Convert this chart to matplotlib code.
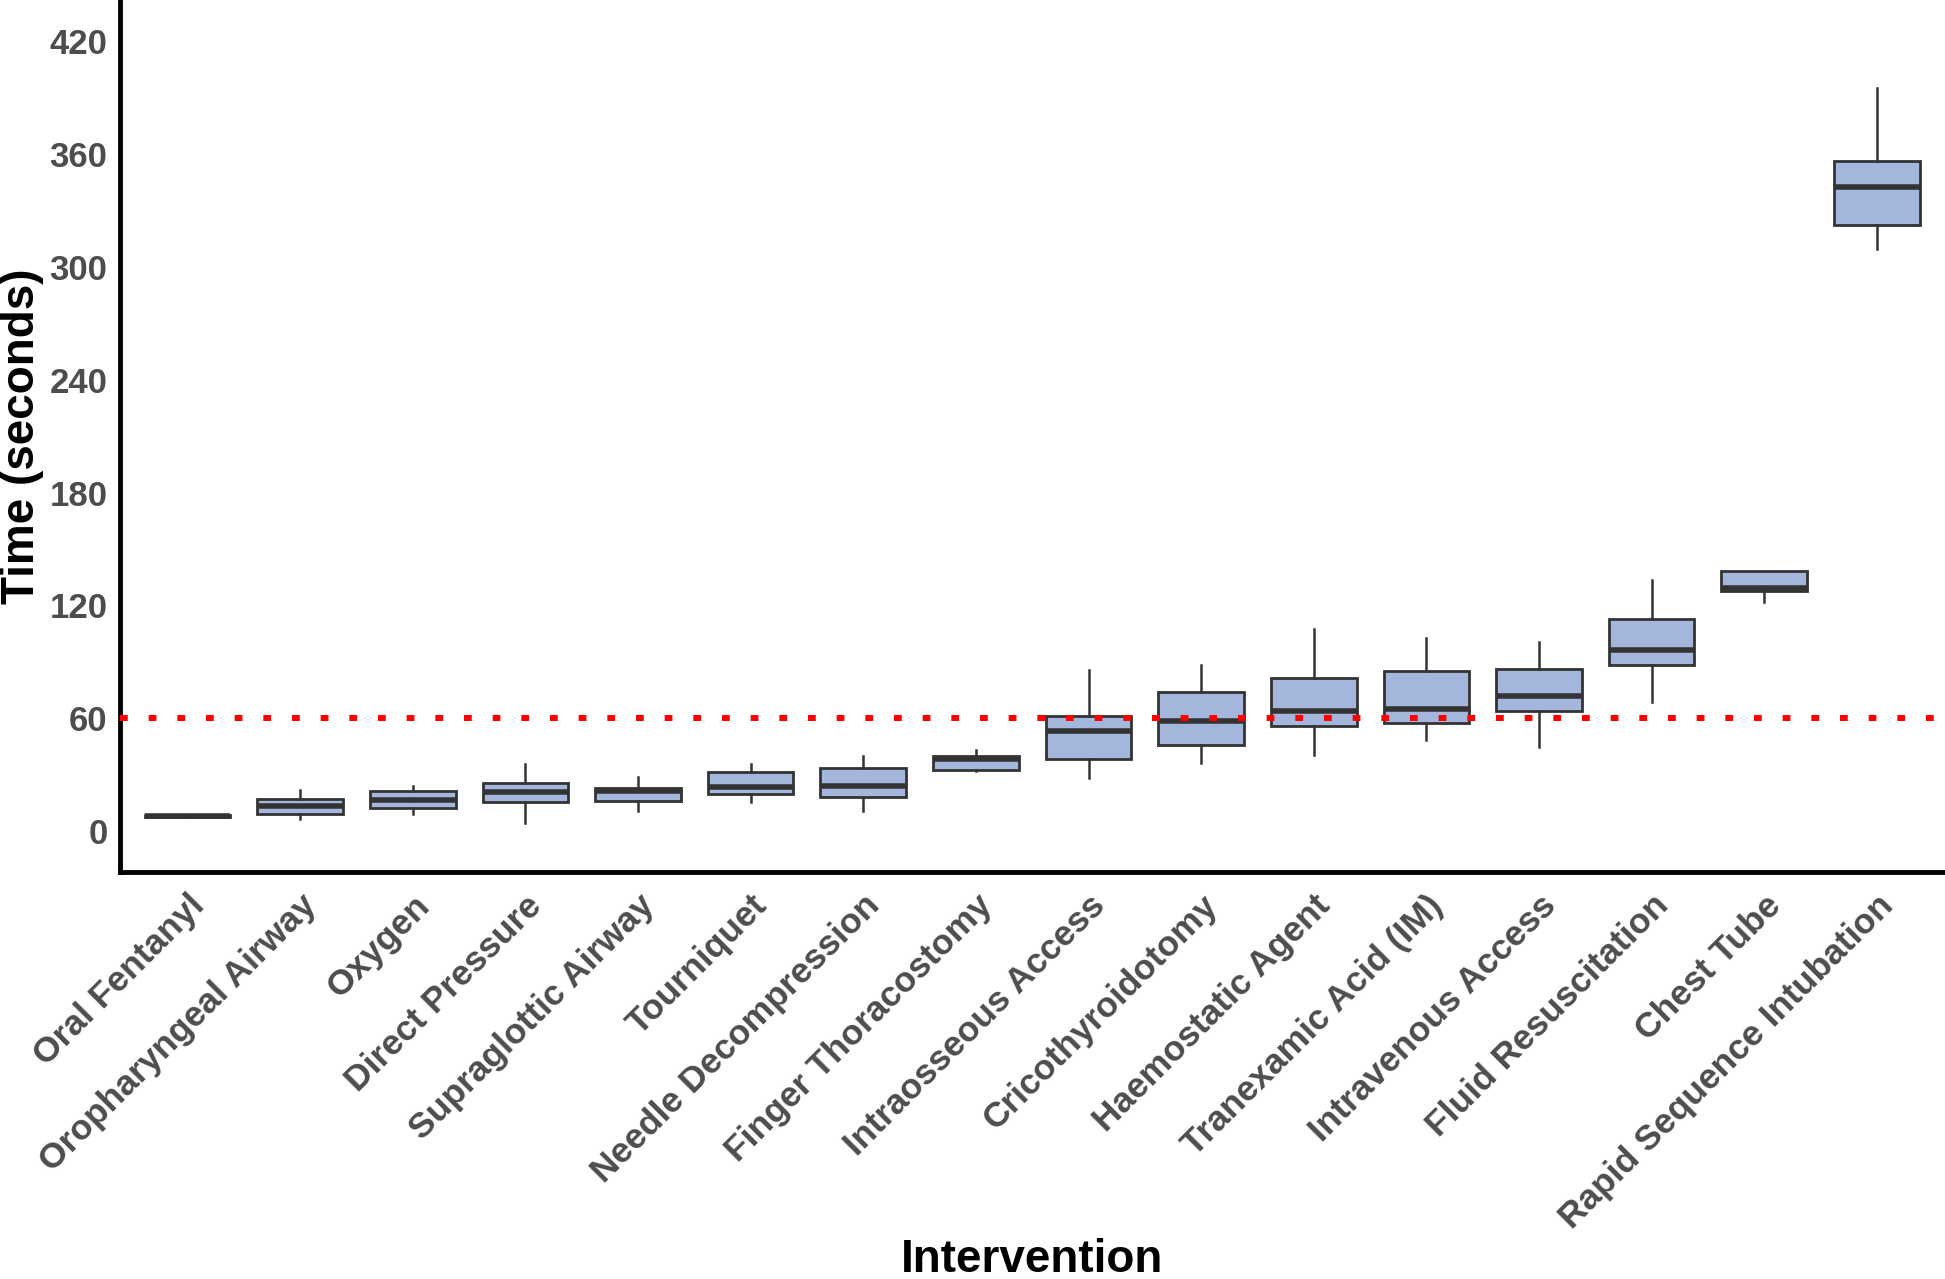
import matplotlib
matplotlib.use("Agg")
import matplotlib.pyplot as plt

plt.rcParams['font.family'] = ['Liberation Sans', 'DejaVu Sans']

categories = ["Oral Fentanyl", "Oropharyngeal Airway", "Oxygen", "Direct Pressure",
              "Supraglottic Airway", "Tourniquet", "Needle Decompression",
              "Finger Thoracostomy", "Intraosseous Access", "Cricothyroidotomy",
              "Haemostatic Agent", "Tranexamic Acid (IM)", "Intravenous Access",
              "Fluid Resuscitation", "Chest Tube", "Rapid Sequence Intubation"]
whisker_low = [8.0, 6.5, 9.2, 4.4, 10.4, 15.6, 10.4, 32.1, 28.0, 36.1, 40.4, 48.3, 44.9, 68.5, 121.7, 309.4]
q1 = [7.6, 8.8, 12.1, 15.3, 16.0, 19.6, 18.1, 32.6, 38.2, 45.9, 55.6, 57.5, 63.9, 88.3, 127.5, 322.5]
median = [8.0, 13.3, 16.3, 20.5, 21.3, 23.3, 24.0, 38.0, 52.9, 58.4, 63.9, 64.8, 71.8, 96.3, 129.0, 342.7]
q3 = [8.4, 17.2, 21.2, 25.3, 22.8, 31.2, 33.3, 39.8, 61.1, 74.0, 81.3, 85.3, 85.9, 112.5, 138.2, 356.2]
whisker_high = [8.0, 21.9, 23.9, 35.8, 28.7, 35.8, 40.0, 43.0, 85.6, 88.3, 107.6, 102.7, 100.6, 133.6, 138.2, 395.0]
threshold = 60
yticks = [0, 60, 120, 180, 240, 300, 360, 420]

stats = []
for i, name in enumerate(categories):
    stats.append(dict(label=name, whislo=whisker_low[i], q1=q1[i], med=median[i],
                      q3=q3[i], whishi=whisker_high[i], fliers=[]))

fig = plt.figure(figsize=(19.45, 12.79), dpi=100)
ax = fig.add_axes([0.0617, 0.318, 0.938, 0.682])

edge = '#333333'
ax.bxp(stats, positions=range(len(categories)), widths=0.76, patch_artist=True,
       showcaps=False, showfliers=False,
       boxprops=dict(facecolor='#A4B6DC', edgecolor=edge, linewidth=2.0),
       medianprops=dict(color=edge, linewidth=4.0, solid_capstyle='butt'),
       whiskerprops=dict(color=edge, linewidth=1.8))

ax.axhline(threshold, color='#FF0000', linewidth=4.3, linestyle=(0, (1.3, 3.5)), zorder=5)

ax.set_xlim(-0.6, len(categories) - 0.4)
ax.set_ylim(-22, 442)
ax.set_yticks(yticks)
ax.set_yticklabels([str(t) for t in yticks])
ax.set_xticks(range(len(categories)))
ax.set_xticklabels(categories, rotation=45, ha='right', va='top', rotation_mode='anchor')

for lab in ax.get_xticklabels():
    lab.set_fontweight('bold')
    lab.set_fontsize(25.5)
    lab.set_color('#4D4D4D')
for lab in ax.get_yticklabels():
    lab.set_fontweight('bold')
    lab.set_fontsize(25)
    lab.set_color('#4D4D4D')
ax.tick_params(axis='both', length=0)
ax.tick_params(axis='y', pad=9)
ax.tick_params(axis='x', pad=12)

for s in ['top', 'right']:
    ax.spines[s].set_visible(False)
for s in ['left', 'bottom']:
    ax.spines[s].set_linewidth(3.5)
    ax.spines[s].set_color('black')

ax.set_ylabel('Time (seconds)', fontsize=33, fontweight='bold', color='black', labelpad=4)
ax.set_xlabel('Intervention', fontsize=33, fontweight='bold', color='black', labelpad=2)

fig.savefig('out.png', dpi=100)
